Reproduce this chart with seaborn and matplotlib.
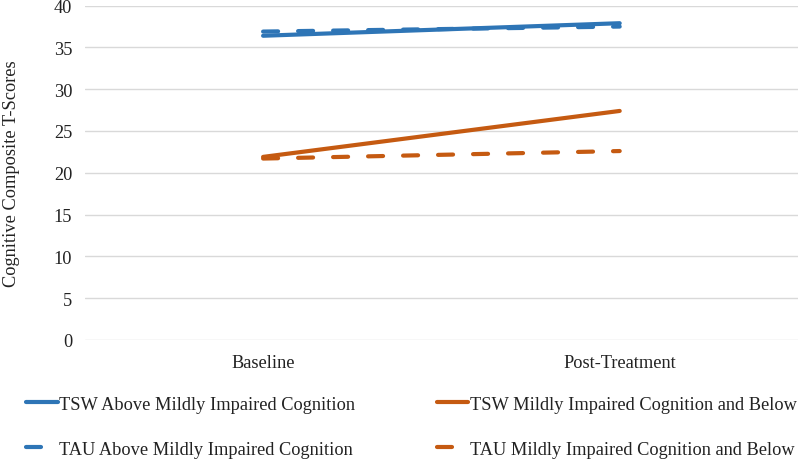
import matplotlib
matplotlib.use("Agg")
import matplotlib.pyplot as plt
import seaborn as sns
import pandas as pd
from matplotlib.lines import Line2D

timepoints = ["Baseline", "Post-Treatment"]
series_names = [
    "TSW Above Mildly Impaired Cognition",
    "TAU Above Mildly Impaired Cognition",
    "TSW Mildly Impaired Cognition and Below",
    "TAU Mildly Impaired Cognition and Below",
]
tsw_above = [36.4, 37.9]
tau_above = [36.9, 37.5]
tsw_mild = [21.9, 27.4]
tau_mild = [21.7, 22.6]
yticks = [0, 5, 10, 15, 20, 25, 30, 35, 40]

values = [tsw_above, tau_above, tsw_mild, tau_mild]
rows = []
for name, vals in zip(series_names, values):
    for t, v in zip(timepoints, vals):
        rows.append({"time": t, "score": v, "series": name})
df = pd.DataFrame(rows)

blue = "#2E75B6"
orange = "#C55A11"
palette = {series_names[0]: blue, series_names[1]: blue,
           series_names[2]: orange, series_names[3]: orange}
dash_pat = (3.6, 4.8)
dashes = {series_names[0]: "", series_names[1]: dash_pat,
          series_names[2]: "", series_names[3]: dash_pat}

sns.set_theme(style="white")
plt.rcParams["font.family"] = ["Liberation Serif", "DejaVu Serif"]

FS = 13.2
fig = plt.figure(figsize=(8, 4.6), dpi=100)
ax = fig.add_axes([0.106, 0.259, 0.8915, 0.7265])

lw = 3.0
sns.lineplot(data=df, x="time", y="score", hue="series", style="series",
             palette=palette, dashes=dashes, linewidth=lw, ax=ax,
             legend=False, sort=False)
for ln in ax.lines:
    ln.set_solid_capstyle("round")
    ln.set_dash_capstyle("round")

ax.set_xlim(-0.5, 1.5)
ax.set_ylim(0, 40)
ax.set_yticks(yticks)
ax.yaxis.grid(True, color="#D9D9D9", linewidth=1.0)
ax.xaxis.grid(False)
for s in ax.spines.values():
    s.set_visible(False)
ax.tick_params(axis="both", length=0, labelsize=FS, colors="#222222")
ax.tick_params(axis="y", pad=9)
ax.tick_params(axis="x", pad=10.5)
ax.set_xlabel("")
ax.set_ylabel("Cognitive Composite T-Scores", fontsize=FS, color="#222222", labelpad=24)

handles = []
for name in series_names:
    h = Line2D([], [], color=palette[name], linewidth=lw,
               linestyle="-" if dashes[name] == "" else (0, dash_pat),
               solid_capstyle="round", dash_capstyle="round")
    handles.append(h)
fig.legend(handles, series_names, loc="lower left", bbox_to_anchor=(0.0125, -0.033),
           ncol=2, frameon=False, fontsize=FS, handlelength=1.7,
           handletextpad=0.1, columnspacing=4.45, labelspacing=1.52,
           labelcolor="#222222")

fig.savefig("out.png", dpi=100)
